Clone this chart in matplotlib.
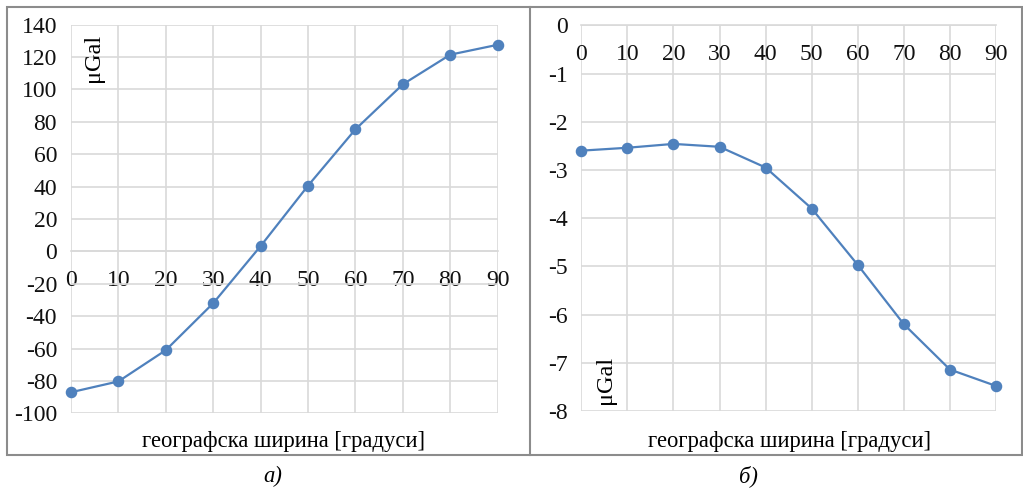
import matplotlib
matplotlib.use("Agg")
import matplotlib.pyplot as plt
from matplotlib.patches import Rectangle
from matplotlib.lines import Line2D

latitude = [0, 10, 20, 30, 40, 50, 60, 70, 80, 90]
values_a = [-87.0, -80.3, -61.0, -32.0, 3.3, 40.6, 75.4, 103.2, 121.5, 127.6]
values_b = [-2.60, -2.54, -2.46, -2.52, -2.95, -3.80, -4.97, -6.20, -7.14, -7.48]
xlabel = "географска ширина [градуси]"
unit = "μGal"
panel_labels = ["а)", "б)"]

plt.rcParams['font.family'] = ['Liberation Serif', 'DejaVu Serif']
TFS = 17
FS = 16.3
BLUE = '#4f81bd'
GRID = '#d9d9d9'

fig = plt.figure(figsize=(10.23, 4.88), dpi=100)
W, H = 1023, 488

def fx(px):
    return px / W

def fy(py):
    return 1 - py / H

# outer frame and divider
fig.patches.append(Rectangle((fx(7), fy(455)), fx(1022) - fx(7), fy(7) - fy(455),
                             transform=fig.transFigure, fill=False, ec='#8c8c8c', lw=1.5))
fig.lines.append(Line2D([fx(530), fx(530)], [fy(7), fy(455)], transform=fig.transFigure,
                        color='#8c8c8c', lw=1.5))

def setup(ax, ymin, ymax, ystep):
    for s in ['top', 'right', 'left']:
        ax.spines[s].set_visible(False)
    ax.spines['bottom'].set_position(('data', 0))
    ax.spines['bottom'].set_color(GRID)
    ax.spines['bottom'].set_linewidth(1.2)
    ax.set_xlim(0, 90)
    ax.set_ylim(ymin, ymax)
    ax.set_xticks(latitude)
    ax.set_xticklabels([str(v) for v in latitude])
    yt = []
    v = ymin
    while v <= ymax + 1e-9:
        yt.append(v)
        v += ystep
    ax.set_yticks(yt)
    ax.set_yticklabels([("%g" % t) for t in yt])
    ax.grid(True, color=GRID, lw=1.2)
    ax.set_axisbelow(True)
    ax.tick_params(axis='both', length=0, labelsize=TFS, labelcolor='#111111')
    ax.tick_params(axis='x', pad=13.5)
    ax.tick_params(axis='y', pad=10)
    ax.set_facecolor('none')

ax1 = fig.add_axes([fx(71), fy(413.3), fx(497.7) - fx(71), fy(24.7) - fy(413.3)])
setup(ax1, -100, 140, 20)
ax1.plot(latitude, values_a, color=BLUE, lw=1.6, marker='o', ms=7.3, zorder=3, clip_on=False)
ax1.text(fx(93), fy(58), unit, transform=fig.transFigure, rotation=90, fontsize=17.5,
         ha='center', va='center')

ax2 = fig.add_axes([fx(581.3), fy(411), fx(996) - fx(581.3), fy(25.3) - fy(411)])
setup(ax2, -8, 0, 1)
ax2.plot(latitude, values_b, color=BLUE, lw=1.6, marker='o', ms=7.3, zorder=3, clip_on=False)
ax2.text(fx(605), fy(380), unit, transform=fig.transFigure, rotation=90, fontsize=17.5,
         ha='center', va='center')

fig.text(fx(284), fy(441), xlabel, fontsize=FS, ha='center', va='center')
fig.text(fx(789), fy(441), xlabel, fontsize=FS, ha='center', va='center')
fig.text(fx(273), fy(476), panel_labels[0], fontsize=FS, style='italic', ha='center', va='center')
fig.text(fx(748), fy(476), panel_labels[1], fontsize=FS, style='italic', ha='center', va='center')

fig.savefig('out.png', dpi=100)
